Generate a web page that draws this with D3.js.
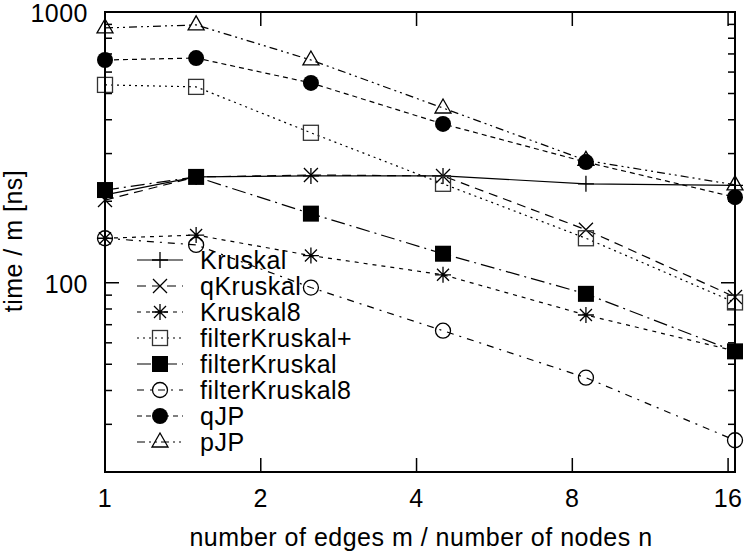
<!DOCTYPE html>
<html lang="en">
<head>
    <meta charset="UTF-8">
    <title>time / m vs m / n</title>
    <script src="https://d3js.org/d3.v7.min.js"></script>
    <style>
        body {
            margin: 0;
            background: #fff;
        }
        svg text {
            font-family: "Liberation Sans", Arial, Helvetica, sans-serif;
            font-size: 25px;
            letter-spacing: 0.5px;
            fill: #000;
        }
    </style>
</head>
<body>
    <div id="chart"></div>

    <script>
        // data
        const ratios = [1, 1.5, 2.5, 4.5, 8.5, 16.5];
        const kruskal = [211, 246, 248, 248, 232, 229];
        const qKruskal = [202, 246, 250, 248, 157, 88.6];
        const kruskal8 = [146, 150, 126, 107, 76, 56];
        const filterKruskalPlus = [538, 529, 358, 232, 146, 84.6];
        const filterKruskal = [220, 246, 180, 128, 91, 55.8];
        const filterKruskal8 = [146, 138, 96, 66.5, 44.6, 26.2];
        const qJP = [665, 676, 547, 386, 279, 207];
        const pJP = [873, 896, 665, 442, 283, 230];

        const xTicks = [1, 2, 4, 8, 16];
        const yMajor = [100, 1000];
        const yMinor = [20, 30, 40, 50, 60, 70, 80, 90, 200, 300, 400, 500, 600, 700, 800, 900];

        const series = [
            { name: "Kruskal", values: kruskal, dash: null, marker: "plus" },
            { name: "qKruskal", values: qKruskal, dash: "9,6", marker: "cross" },
            { name: "Kruskal8", values: kruskal8, dash: "4,5", marker: "star" },
            { name: "filterKruskal+", values: filterKruskalPlus, dash: "2,4", marker: "square" },
            { name: "filterKruskal", values: filterKruskal, dash: "14,5,2,5", marker: "squareFilled" },
            { name: "filterKruskal8", values: filterKruskal8, dash: "7,6,2,6", marker: "circle" },
            { name: "qJP", values: qJP, dash: "5,4", marker: "circleFilled" },
            { name: "pJP", values: pJP, dash: "8,4,2,4,2,4", marker: "triangle" }
        ];

        const W = 746, H = 551;
        const mLeft = 105, mRight = 735, mTop = 12, mBottom = 472;

        const svg = d3.select("#chart").append("svg")
            .attr("width", W)
            .attr("height", H);

        const x = d3.scaleLog().base(2).domain([1, 16.5]).range([mLeft, mRight]);
        const y = d3.scaleLog().domain([20, 1000]).range([mBottom, mTop]);

        // ticks (gnuplot style, inward, mirrored)
        const ticks = svg.append("g").attr("stroke", "#000").attr("stroke-width", 1.5);
        xTicks.filter(d => d > 1).forEach(d => {
            ticks.append("line").attr("x1", x(d)).attr("x2", x(d)).attr("y1", mBottom).attr("y2", mBottom - 14);
            ticks.append("line").attr("x1", x(d)).attr("x2", x(d)).attr("y1", mTop).attr("y2", mTop + 14);
        });
        yMajor.forEach(d => {
            ticks.append("line").attr("x1", mLeft).attr("x2", mLeft + 14).attr("y1", y(d)).attr("y2", y(d));
            ticks.append("line").attr("x1", mRight).attr("x2", mRight - 14).attr("y1", y(d)).attr("y2", y(d));
        });
        yMinor.forEach(d => {
            ticks.append("line").attr("x1", mLeft).attr("x2", mLeft + 7).attr("y1", y(d)).attr("y2", y(d));
            ticks.append("line").attr("x1", mRight).attr("x2", mRight - 7).attr("y1", y(d)).attr("y2", y(d));
        });

        // tick labels
        svg.append("g").selectAll("text")
            .data(xTicks)
            .enter()
            .append("text")
            .attr("x", d => x(d))
            .attr("y", 507)
            .attr("text-anchor", "middle")
            .text(d => d);

        svg.append("g").selectAll("text")
            .data(yMajor)
            .enter()
            .append("text")
            .attr("x", 88)
            .attr("y", d => y(d) + 10)
            .attr("text-anchor", "end")
            .text(d => d);

        // axis titles
        svg.append("text")
            .attr("x", 421)
            .attr("y", 546)
            .attr("text-anchor", "middle")
            .text("number of edges m / number of nodes n");

        svg.append("text")
            .attr("transform", "translate(22,241) rotate(-90)")
            .attr("text-anchor", "middle")
            .text("time / m [ns]");

        // marker drawing
        function drawMarker(g, type, cx, cy) {
            const s = "#000";
            if (type === "plus") {
                g.append("path").attr("d", `M${cx - 8},${cy}H${cx + 8}M${cx},${cy - 8}V${cy + 8}`)
                    .attr("stroke", s).attr("stroke-width", 1.3).attr("fill", "none");
            } else if (type === "cross") {
                g.append("path").attr("d", `M${cx - 7},${cy - 7}L${cx + 7},${cy + 7}M${cx - 7},${cy + 7}L${cx + 7},${cy - 7}`)
                    .attr("stroke", s).attr("stroke-width", 1.3).attr("fill", "none");
            } else if (type === "star") {
                g.append("path").attr("d", `M${cx - 8},${cy}H${cx + 8}M${cx},${cy - 8}V${cy + 8}` +
                    `M${cx - 6},${cy - 6}L${cx + 6},${cy + 6}M${cx - 6},${cy + 6}L${cx + 6},${cy - 6}`)
                    .attr("stroke", s).attr("stroke-width", 1.3).attr("fill", "none");
            } else if (type === "square") {
                g.append("rect").attr("x", cx - 7.5).attr("y", cy - 7.5).attr("width", 15).attr("height", 15)
                    .attr("stroke", "#333").attr("stroke-width", 1.3).attr("fill", "none");
            } else if (type === "squareFilled") {
                g.append("rect").attr("x", cx - 8).attr("y", cy - 8).attr("width", 16).attr("height", 16)
                    .attr("fill", s);
            } else if (type === "circle") {
                g.append("circle").attr("cx", cx).attr("cy", cy).attr("r", 7.5)
                    .attr("stroke", s).attr("stroke-width", 1.3).attr("fill", "none");
            } else if (type === "circleFilled") {
                g.append("circle").attr("cx", cx).attr("cy", cy).attr("r", 8).attr("fill", s);
            } else if (type === "triangle") {
                g.append("path").attr("d", `M${cx},${cy - 9}L${cx + 8},${cy + 5}L${cx - 8},${cy + 5}Z`)
                    .attr("stroke", s).attr("stroke-width", 1.3).attr("fill", "none");
            }
        }

        const line = d3.line()
            .x((d, i) => x(ratios[i]))
            .y(d => y(d));

        const legendY = d3.scaleLinear().domain([0, series.length - 1]).range([260, 442]);

        series.forEach((s, k) => {
            const g = svg.append("g");
            g.append("path")
                .attr("d", line(s.values))
                .attr("fill", "none")
                .attr("stroke", "#000")
                .attr("stroke-width", 1.2)
                .attr("stroke-dasharray", s.dash);
            s.values.forEach((v, i) => drawMarker(g, s.marker, x(ratios[i]), y(v)));

            // legend entry
            const ly = legendY(k);
            g.append("line")
                .attr("x1", 137).attr("x2", 183)
                .attr("y1", ly).attr("y2", ly)
                .attr("stroke", "#000")
                .attr("stroke-width", 1.2)
                .attr("stroke-dasharray", s.dash);
            drawMarker(g, s.marker, 160, ly);
            g.append("text")
                .attr("x", 200)
                .attr("y", ly + 8.5)
                .text(s.name);
        });

        // frame
        svg.append("rect")
            .attr("x", mLeft).attr("y", mTop)
            .attr("width", mRight - mLeft).attr("height", mBottom - mTop)
            .attr("fill", "none")
            .attr("stroke", "#000")
            .attr("stroke-width", 2);
    </script>
</body>
</html>
